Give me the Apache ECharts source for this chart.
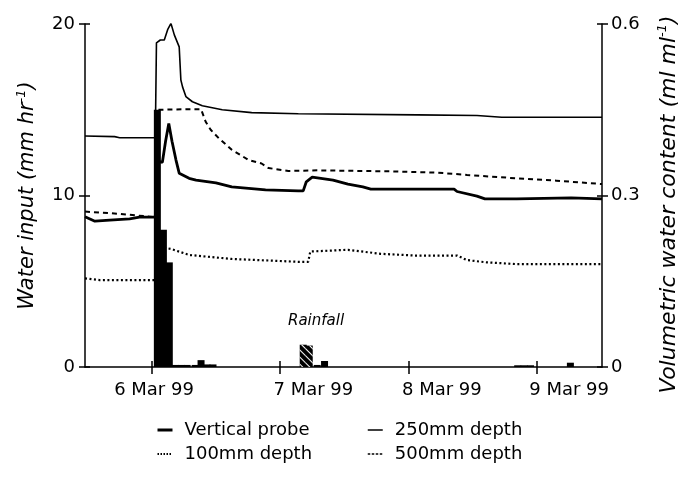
<!DOCTYPE html>
<html>
<head>
<meta charset="utf-8">
<script src="https://cdn.jsdelivr.net/npm/echarts@6/dist/echarts.min.js"></script>
<style>
html, body { margin: 0; padding: 0; background: #fff; }
#chart { width: 688px; height: 481px; }
</style>
</head>
<body>
<div id="chart"></div>
<script>
// x values are days of March 1999 (6 = 6 Mar 00:00)
var tickDays = [6, 7, 8, 9];
var labelDays = [6.02, 7.26, 8.26, 9.25];
var tickLabels = ['6 Mar 99', '7 Mar 99', '8 Mar 99', '9 Mar 99'];

// volumetric water content, ml ml-1
var probe = [[5.483, 0.263], [5.560, 0.255], [5.676, 0.257], [5.830, 0.259], [5.907, 0.262], [6.030, 0.262],
  [6.046, 0.360], [6.085, 0.358], [6.110, 0.395], [6.135, 0.426], [6.160, 0.395], [6.191, 0.362], [6.216, 0.339],
  [6.293, 0.330], [6.347, 0.327], [6.502, 0.322], [6.625, 0.315], [6.888, 0.310], [7.143, 0.308], [7.181, 0.308],
  [7.205, 0.324], [7.251, 0.332], [7.413, 0.327], [7.529, 0.320], [7.645, 0.315], [7.707, 0.311], [8.355, 0.311],
  [8.378, 0.307], [8.533, 0.299], [8.595, 0.294], [8.842, 0.294], [9.266, 0.296], [9.506, 0.294]];
var depth250 = [[5.483, 0.404], [5.714, 0.403], [5.753, 0.401], [6.030, 0.401], [6.039, 0.567], [6.069, 0.572],
  [6.100, 0.572], [6.126, 0.590], [6.152, 0.601], [6.178, 0.581], [6.216, 0.560], [6.229, 0.502], [6.242, 0.490],
  [6.268, 0.473], [6.319, 0.464], [6.396, 0.457], [6.551, 0.450], [6.780, 0.445], [7.143, 0.443], [8.069, 0.441],
  [8.533, 0.440], [8.726, 0.437], [9.506, 0.437]];
var depth100 = [[5.483, 0.155], [5.598, 0.152], [6.030, 0.152], [6.046, 0.213], [6.116, 0.208], [6.160, 0.206],
  [6.293, 0.196], [6.625, 0.189], [7.143, 0.184], [7.220, 0.184], [7.236, 0.202], [7.529, 0.205], [7.784, 0.198],
  [8.046, 0.195], [8.378, 0.195], [8.456, 0.187], [8.610, 0.183], [8.842, 0.180], [9.506, 0.180]];
var depth500 = [[5.483, 0.272], [5.598, 0.270], [5.753, 0.268], [5.985, 0.263], [6.030, 0.262], [6.039, 0.450],
  [6.293, 0.451], [6.386, 0.451], [6.422, 0.429], [6.461, 0.415], [6.525, 0.400], [6.625, 0.380], [6.757, 0.362],
  [6.857, 0.356], [6.911, 0.348], [7.066, 0.343], [7.297, 0.344], [7.915, 0.342], [8.224, 0.340], [8.456, 0.336],
  [8.842, 0.330], [9.151, 0.326], [9.506, 0.320]];

// water input, mm hr-1 (hourly)
var meltInput = [[6.046, 15.0], [6.093, 8.0], [6.139, 6.1], [6.185, 0.12], [6.232, 0.12], [6.278, 0.12],
  [6.340, 0.12], [6.386, 0.4], [6.432, 0.15], [6.479, 0.15], [7.290, 0.12], [7.347, 0.35],
  [8.85, 0.1], [8.90, 0.1], [8.95, 0.1], [9.26, 0.25]];
var rainfall = [[7.181, 1.3], [7.228, 1.25]];

var font = 'DejaVu Sans';
var myChart = echarts.init(document.getElementById('chart'));

function lineSeries (name, data, width, type) {
  return {
    name: name,
    type: 'line',
    xAxisIndex: 0,
    yAxisIndex: 1,
    symbol: 'none',
    data: data,
    lineStyle: { color: '#000', width: width, type: type },
    itemStyle: { color: '#000' },
    z: 3
  }
}

var legendText = { fontFamily: font, fontSize: 18, color: '#000', padding: [0, 0, 0, 7] };
var legendItem = { color: 'rgba(0,0,0,0)', borderWidth: 0 };

function nameStyle (size) {
  return {
    n: { fontFamily: font, fontStyle: 'italic', fontSize: size, color: '#000', lineHeight: 26 },
    s: { fontFamily: font, fontStyle: 'italic', fontSize: 13, color: '#000', verticalAlign: 'top', lineHeight: 26 }
  }
}

myChart.setOption({
  animation: false,
  backgroundColor: '#fff',
  grid: { left: 85, right: 82, top: 24, bottom: 114 },
  legend: [{
    data: [
      { name: 'Vertical probe', lineStyle: { color: '#000', width: 3, type: 'solid' } },
      { name: '100mm depth', lineStyle: { color: '#000', width: 2, type: [1.5, 1.5] } }
    ],
    orient: 'vertical',
    left: 151, top: 416,
    itemWidth: 15, itemHeight: 12, itemGap: 6,
    itemStyle: legendItem,
    textStyle: legendText
  }, {
    data: [
      { name: '250mm depth', lineStyle: { color: '#000', width: 1.5, type: 'solid' } },
      { name: '500mm depth', lineStyle: { color: '#000', width: 1.5, type: [2.5, 1.5] } }
    ],
    orient: 'vertical',
    left: 362, top: 416,
    itemWidth: 15, itemHeight: 12, itemGap: 6,
    itemStyle: legendItem,
    textStyle: legendText
  }],
  xAxis: [{
    type: 'value',
    min: 5.483, max: 9.506,
    position: 'bottom',
    splitLine: { show: false },
    axisLine: { lineStyle: { color: '#000', width: 1.5 } },
    axisTick: { customValues: tickDays, length: 7, lineStyle: { color: '#000', width: 1.5 } },
    axisLabel: {
      customValues: labelDays,
      margin: 14,
      fontFamily: font, fontSize: 18, color: '#000',
      formatter: function (v) { return tickLabels[tickDays.indexOf(Math.floor(v))]; }
    }
  }, {
    type: 'value',
    min: 5.483, max: 9.506,
    position: 'bottom',
    splitLine: { show: false },
    axisLine: { show: false },
    axisTick: { customValues: tickDays, inside: true, length: 6, lineStyle: { color: '#000', width: 1.5 } },
    axisLabel: { show: false }
  }],
  yAxis: [{
    type: 'value',
    position: 'left',
    min: 0, max: 20, interval: 10,
    splitLine: { show: false },
    axisLine: { show: true, lineStyle: { color: '#000', width: 1.5 } },
    axisTick: { length: 6, lineStyle: { color: '#000', width: 1.5 } },
    axisLabel: { margin: 10, fontFamily: font, fontSize: 18, color: '#000' },
    name: '{n|Water input (mm hr}{s|-1}{n|)}',
    nameLocation: 'middle',
    nameRotate: 90,
    nameGap: 44,
    nameTextStyle: { rich: nameStyle(21) }
  }, {
    type: 'value',
    position: 'right',
    min: 0, max: 0.6, interval: 0.3,
    splitLine: { show: false },
    axisLine: { show: true, lineStyle: { color: '#000', width: 1.5 } },
    axisTick: { length: 6, lineStyle: { color: '#000', width: 1.5 } },
    axisLabel: { margin: 9, fontFamily: font, fontSize: 18, color: '#000' },
    name: '{n|Volumetric water content (ml ml}{s|-1}{n|)}',
    nameLocation: 'middle',
    nameRotate: 90,
    nameGap: 54,
    nameTextStyle: { padding: [0, 18, 0, 0], rich: nameStyle(22) }
  }, {
    type: 'value',
    position: 'left',
    min: 0, max: 20, interval: 10,
    splitLine: { show: false },
    axisLine: { show: false },
    axisTick: { inside: true, length: 5, lineStyle: { color: '#000', width: 1.5 } },
    axisLabel: { show: false }
  }, {
    type: 'value',
    position: 'right',
    min: 0, max: 0.6, interval: 0.3,
    splitLine: { show: false },
    axisLine: { show: false },
    axisTick: { inside: true, length: 5, lineStyle: { color: '#000', width: 1.5 } },
    axisLabel: { show: false }
  }],
  graphic: [{
    type: 'text',
    left: 288, top: 314,
    style: { text: 'Rainfall', font: 'italic 15px "DejaVu Sans"', fill: '#000' }
  }],
  series: [{
    name: 'Water input',
    type: 'bar',
    xAxisIndex: 0,
    yAxisIndex: 0,
    barWidth: 7,
    barGap: '-100%',
    data: meltInput,
    itemStyle: { color: '#000' }
  }, {
    name: 'Rainfall',
    type: 'bar',
    xAxisIndex: 0,
    yAxisIndex: 0,
    barWidth: 7,
    barGap: '-100%',
    data: rainfall,
    itemStyle: {
      color: '#000',
      decal: {
        symbol: 'rect', symbolSize: 1, color: '#fff',
        dashArrayX: [1, 0], dashArrayY: [1, 4], rotation: Math.PI / 4
      }
    }
  },
  lineSeries('500mm depth', depth500, 2, [5, 4]),
  lineSeries('100mm depth', depth100, 2.2, [2, 2.5]),
  lineSeries('250mm depth', depth250, 1.6, 'solid'),
  lineSeries('Vertical probe', probe, 2.8, 'solid')
  ]
});
</script>
</body>
</html>
